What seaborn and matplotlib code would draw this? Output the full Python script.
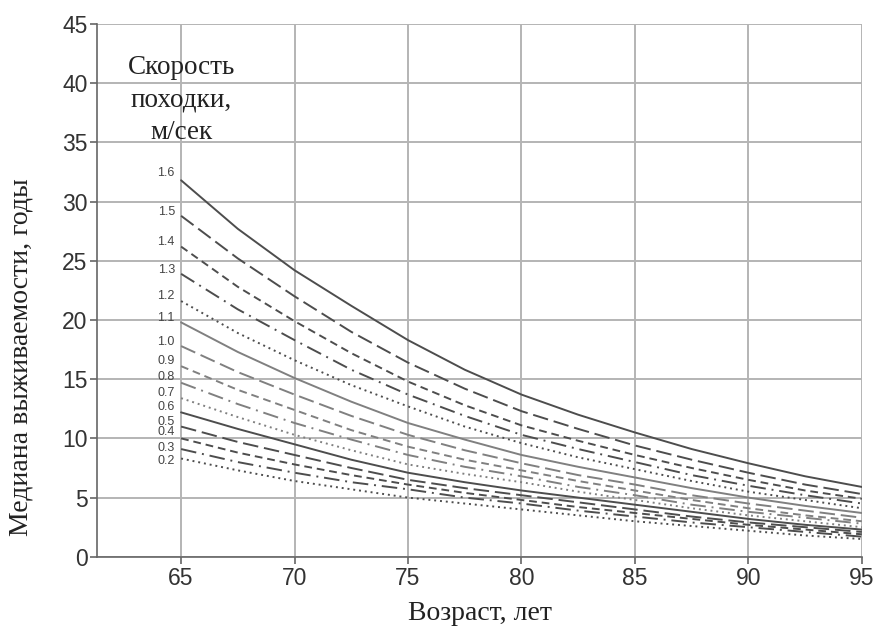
import seaborn as sns
import matplotlib.pyplot as plt
import pandas as pd

ages = [65, 67.5, 70, 72.5, 75, 77.5, 80, 82.5, 85, 87.5, 90, 92.5, 95]
speeds = ['1.6', '1.5', '1.4', '1.3', '1.2', '1.1', '1.0', '0.9', '0.8',
          '0.7', '0.6', '0.5', '0.4', '0.3', '0.2']
s16 = [31.8, 27.7, 24.2, 21.2, 18.3, 15.8, 13.7, 12.0, 10.5, 9.1, 7.9, 6.8, 5.9]
s15 = [28.8, 25.2, 22.0, 19.0, 16.4, 14.2, 12.3, 10.8, 9.4, 8.2, 7.1, 6.1, 5.3]
s14 = [26.2, 22.8, 19.9, 17.2, 14.8, 12.8, 11.1, 9.8, 8.6, 7.5, 6.5, 5.6, 4.9]
s13 = [23.9, 20.9, 18.3, 15.8, 13.7, 11.9, 10.3, 9.1, 8.0, 6.9, 6.0, 5.2, 4.5]
s12 = [21.6, 18.9, 16.6, 14.5, 12.7, 11.0, 9.6, 8.4, 7.4, 6.4, 5.5, 4.8, 4.1]
s11 = [19.8, 17.3, 15.1, 13.1, 11.3, 9.9, 8.6, 7.6, 6.7, 5.8, 5.0, 4.3, 3.7]
s10 = [17.8, 15.6, 13.7, 11.9, 10.3, 9.0, 7.9, 6.9, 6.1, 5.2, 4.5, 3.9, 3.3]
s09 = [16.1, 14.1, 12.4, 10.7, 9.3, 8.2, 7.3, 6.4, 5.6, 4.8, 4.1, 3.5, 3.0]
s08 = [14.7, 12.9, 11.3, 9.9, 8.6, 7.6, 6.8, 5.9, 5.2, 4.4, 3.8, 3.3, 2.8]
s07 = [13.4, 11.8, 10.3, 9.0, 7.8, 7.0, 6.3, 5.5, 4.8, 4.1, 3.5, 3.0, 2.5]
s06 = [12.2, 10.8, 9.5, 8.2, 7.1, 6.3, 5.6, 5.0, 4.4, 3.8, 3.2, 2.7, 2.3]
s05 = [11.0, 9.7, 8.6, 7.5, 6.5, 5.8, 5.2, 4.6, 4.0, 3.4, 2.9, 2.5, 2.1]
s04 = [10.0, 8.8, 7.8, 6.9, 6.1, 5.4, 4.8, 4.2, 3.7, 3.2, 2.7, 2.3, 1.9]
s03 = [9.1, 8.0, 7.1, 6.3, 5.7, 5.0, 4.5, 3.9, 3.4, 2.9, 2.5, 2.1, 1.7]
s02 = [8.3, 7.3, 6.4, 5.7, 5.0, 4.5, 4.0, 3.5, 3.0, 2.6, 2.2, 1.8, 1.5]
series = [s16, s15, s14, s13, s12, s11, s10, s09, s08, s07, s06, s05, s04, s03, s02]

rows = []
for sp, vals in zip(speeds, series):
    for a, v in zip(ages, vals):
        rows.append({'age': a, 'years': v, 'speed': sp})
df = pd.DataFrame(rows)

# 5 line styles repeated, dark / mid gray / dark groups
styles = ['', (8, 3), (4, 2.5), (8, 3, 1, 3), (1, 2)]
dashes = {sp: styles[i % 5] for i, sp in enumerate(speeds)}
palette = {sp: ('#808080' if 5 <= i < 10 else '#4d4d4d') for i, sp in enumerate(speeds)}

# vertical nudge of each speed label (points above line start)
label_dy = [5, 3, 3, 3, 3.5, 3, 3, 3.5, 4, 3.5, 4, 3.5, 4.5, 1, -2]

sns.set_theme(style='whitegrid')
plt.rcParams['font.family'] = ['Liberation Sans', 'DejaVu Sans']

fig = plt.figure(figsize=(8.75, 6.32), dpi=100)
ax = fig.add_axes([0.111, 0.119, 0.874, 0.843])
sns.lineplot(data=df, x='age', y='years', hue='speed', style='speed',
             palette=palette, dashes=dashes, linewidth=1.4, legend=False, ax=ax)

for sp, vals, dy in zip(speeds, series, label_dy):
    ax.annotate(sp, (ages[0], vals[0]), xytext=(-4.5, dy), textcoords='offset points',
                ha='right', va='center', fontsize=9, color='#444444')

ax.text(65, 38.6, 'Скорость\nпоходки,\nм/сек', ha='center', va='center',
        fontsize=19.5, family='Liberation Serif', color='#222222', linespacing=1.4)

ax.set_xlim(61.3, 95)
ax.set_ylim(0, 45)
ax.set_xticks(range(65, 96, 5))
ax.set_yticks(range(0, 46, 5))
ax.grid(True, color='#b4b4b4', linewidth=1.4)
for side in ['top', 'right']:
    ax.spines[side].set_visible(False)
for side in ['left', 'bottom']:
    ax.spines[side].set_color('#666666')
    ax.spines[side].set_linewidth(1.2)
ax.tick_params(axis='both', which='major', length=5, width=1.2, color='#666666',
               labelsize=16.5, labelcolor='#333333', direction='out',
               bottom=True, left=True, pad=2)
ax.set_xlabel('Возраст, лет', fontsize=20, family='Liberation Serif',
              color='#222222', labelpad=8)
ax.set_ylabel('Медиана выживаемости, годы', fontsize=20, family='Liberation Serif',
              color='#222222', va='center')
ax.yaxis.set_label_coords(-0.1, 0.375)

fig.savefig('out.png', dpi=100)
